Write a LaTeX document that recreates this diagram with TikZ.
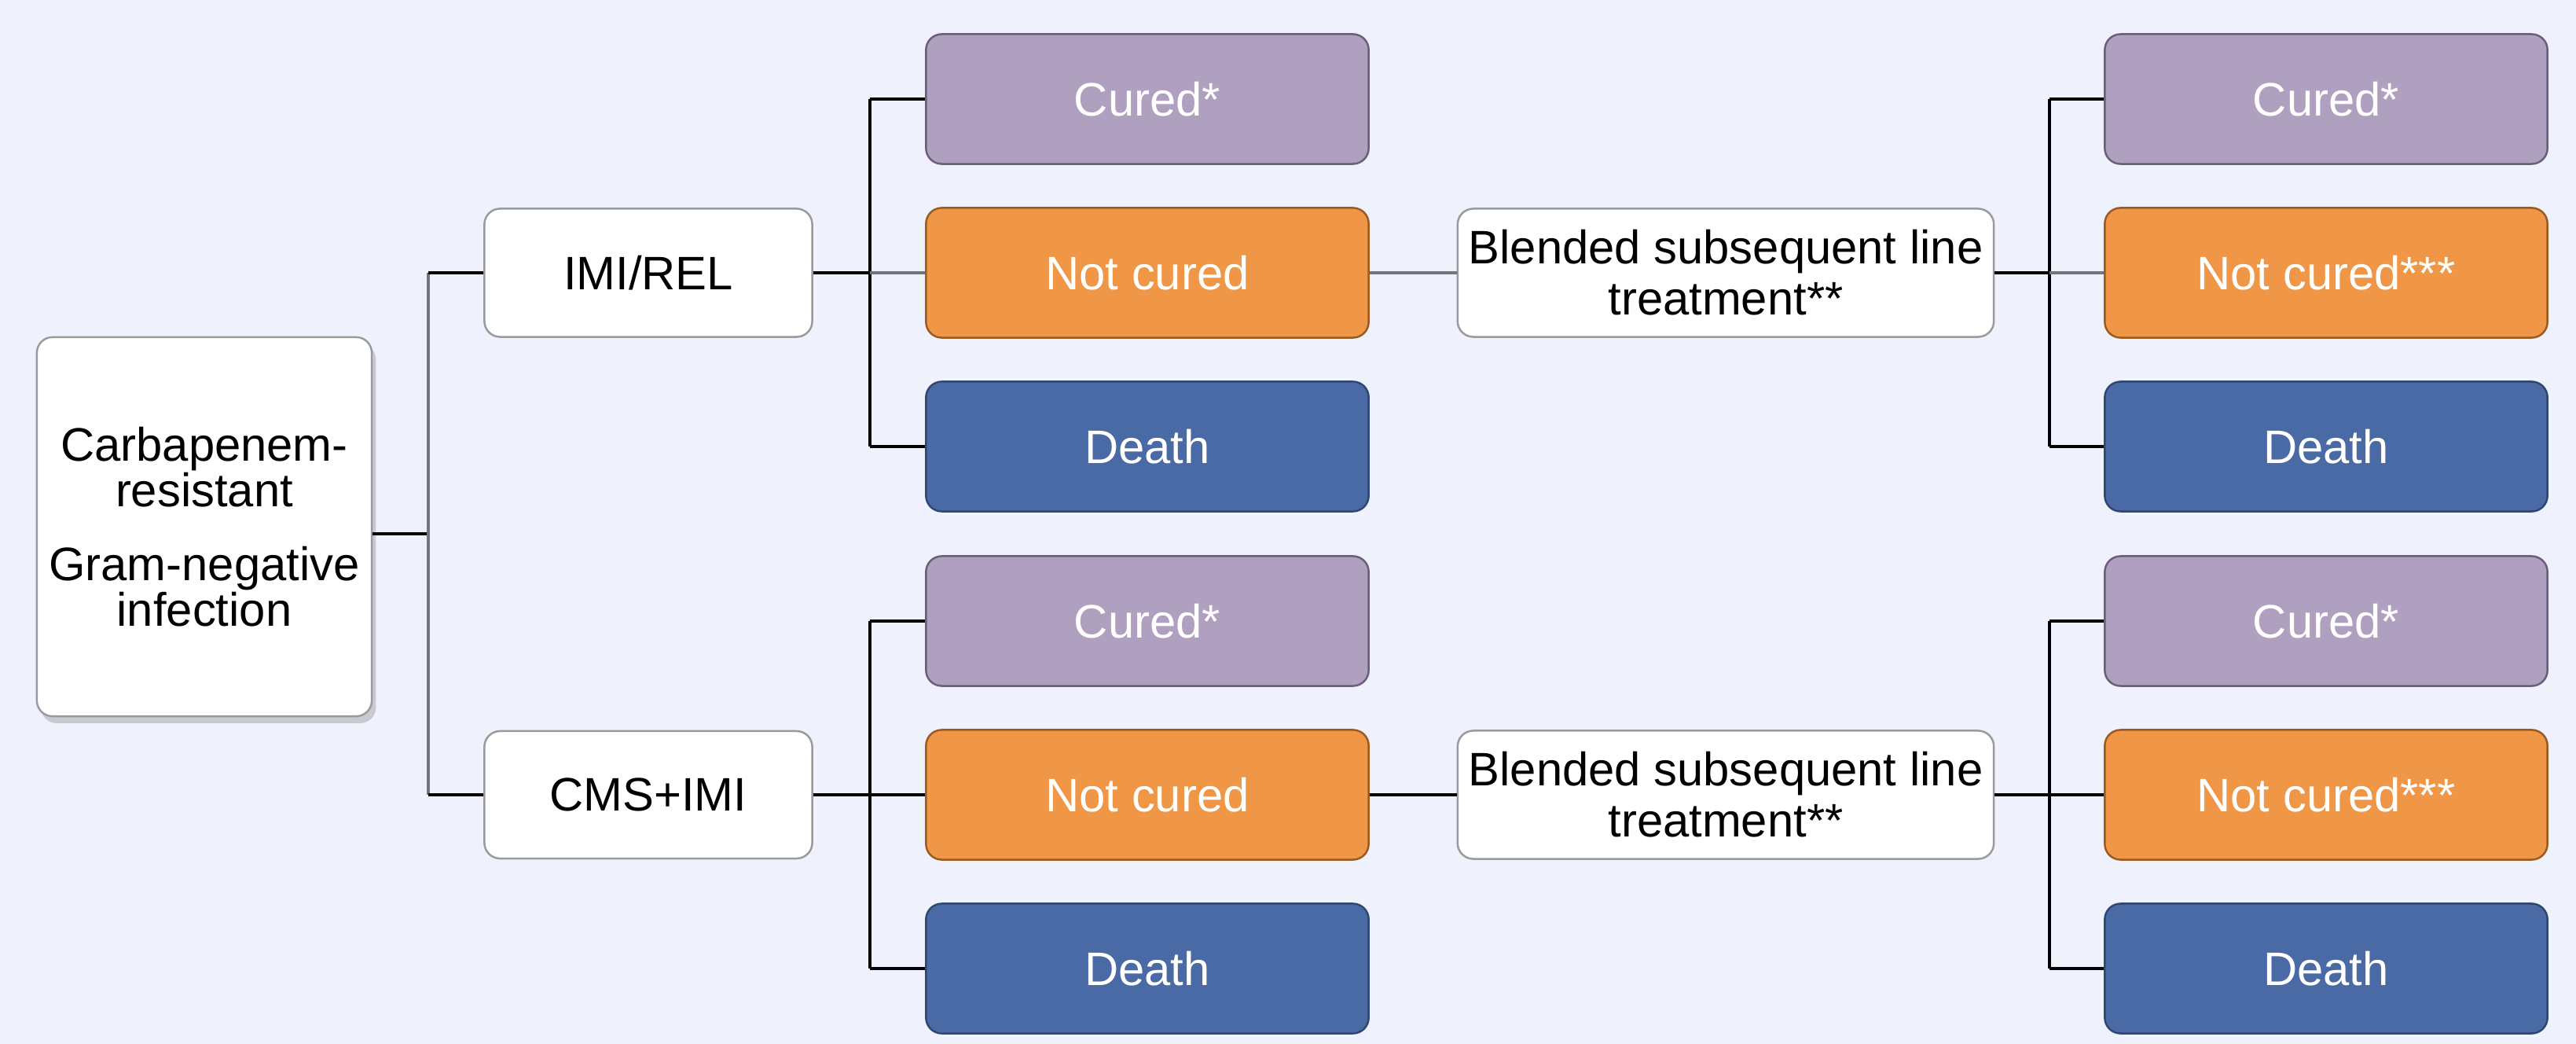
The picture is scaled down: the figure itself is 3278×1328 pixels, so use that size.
\documentclass[tikz,border=0pt]{standalone}
\usepackage{fontspec}
\setmainfont{Liberation Sans}
\usetikzlibrary{shadows}
\definecolor{bgc}{HTML}{EFF1FD}
\definecolor{curedfill}{HTML}{B0A0C0}
\definecolor{curedline}{HTML}{6A5F7A}
\definecolor{notfill}{HTML}{F09647}
\definecolor{notline}{HTML}{9A5A20}
\definecolor{deathfill}{HTML}{4A6AA5}
\definecolor{deathline}{HTML}{2F4670}
\definecolor{boxline}{HTML}{9A9A9A}
\definecolor{linegray}{HTML}{74747C}
\tikzset{
  base/.style={rounded corners=0.2cm, line width=0.7pt, align=center,
    font=\fontsize{17}{18.5}\selectfont, inner sep=0pt},
  whitebox/.style={base, draw=boxline, fill=white, text=black},
  outcome/.style={base, minimum width=5.63cm, minimum height=1.65cm, text=white},
  curedbox/.style={outcome, draw=curedline, fill=curedfill},
  notbox/.style={outcome, draw=notline, fill=notfill},
  deathbox/.style={outcome, draw=deathline, fill=deathfill},
  blk/.style={draw=black, line width=1.05pt},
  gry/.style={draw=linegray, line width=1.3pt},
}
\begin{document}
\begin{tikzpicture}[x=0.01cm, y=-0.01cm]
\fill[bgc] (0,0) rectangle (3278,1328);
\useasboundingbox (0,0) rectangle (3278,1328);

% start node
\node[whitebox, minimum width=4.26cm, minimum height=4.82cm,
  drop shadow={shadow xshift=1.5pt, shadow yshift=-2.5pt, opacity=0.35},
  font=\fontsize{17}{16.5}\selectfont] (start) at (260,670)
  {Carbapenem-\\resistant\\[0.36cm]Gram-negative\\infection};

% first-line treatments
\node[whitebox, minimum width=4.17cm, minimum height=1.63cm] (imi) at (825,347) {IMI/REL};
\node[whitebox, minimum width=4.17cm, minimum height=1.62cm] (cms) at (825,1011) {CMS+IMI};

% outcomes column 1
\node[curedbox] (c1) at (1460,126) {Cured*};
\node[notbox]   (n1) at (1460,347) {Not cured};
\node[deathbox] (d1) at (1460,568) {Death};
\node[curedbox] (c2) at (1460,790) {Cured*};
\node[notbox]   (n2) at (1460,1011) {Not cured};
\node[deathbox] (d2) at (1460,1232) {Death};

% blended
\node[whitebox, minimum width=6.82cm, minimum height=1.63cm,
  font=\fontsize{17}{18.5}\selectfont] (bl1) at (2196,347) {Blended subsequent line\\treatment**};
\node[whitebox, minimum width=6.82cm, minimum height=1.63cm,
  font=\fontsize{17}{18.5}\selectfont] (bl2) at (2196,1011) {Blended subsequent line\\treatment**};

% outcomes column 2
\node[curedbox] (c3) at (2960,126) {Cured*};
\node[notbox]   (n3) at (2960,347) {Not cured***};
\node[deathbox] (d3) at (2960,568) {Death};
\node[curedbox] (c4) at (2960,790) {Cured*};
\node[notbox]   (n4) at (2960,1011) {Not cured***};
\node[deathbox] (d4) at (2960,1232) {Death};

% junction coordinates
\coordinate (j1) at (545,679);
\coordinate (j2) at (1107,347);
\coordinate (j3) at (1107,1011);
\coordinate (j4) at (2608,347);
\coordinate (j5) at (2608,1011);

% connectors: root
\draw[blk] (start.east |- j1) -- (j1);
\draw[gry] (j1 |- imi.west) -- (j1 |- cms.west);
\draw[blk] (j1 |- imi.west) -- (imi.west);
\draw[blk] (j1 |- cms.west) -- (cms.west);

% top group
\draw[blk] (imi.east) -- (j2);
\draw[blk] (j2 |- c1.west) -- (j2 |- d1.west);
\draw[blk] (j2 |- c1.west) -- (c1.west);
\draw[gry] (j2) -- (n1.west);
\draw[blk] (j2 |- d1.west) -- (d1.west);
\draw[gry] (n1.east) -- (bl1.west);
\draw[blk] (bl1.east) -- (j4);
\draw[blk] (j4 |- c3.west) -- (j4 |- d3.west);
\draw[blk] (j4 |- c3.west) -- (c3.west);
\draw[gry] (j4) -- (n3.west);
\draw[blk] (j4 |- d3.west) -- (d3.west);

% bottom group
\draw[blk] (cms.east) -- (j3);
\draw[blk] (j3 |- c2.west) -- (j3 |- d2.west);
\draw[blk] (j3 |- c2.west) -- (c2.west);
\draw[blk] (j3) -- (n2.west);
\draw[blk] (j3 |- d2.west) -- (d2.west);
\draw[blk] (n2.east) -- (bl2.west);
\draw[blk] (bl2.east) -- (j5);
\draw[blk] (j5 |- c4.west) -- (j5 |- d4.west);
\draw[blk] (j5 |- c4.west) -- (c4.west);
\draw[blk] (j5) -- (n4.west);
\draw[blk] (j5 |- d4.west) -- (d4.west);
\end{tikzpicture}
\end{document}
